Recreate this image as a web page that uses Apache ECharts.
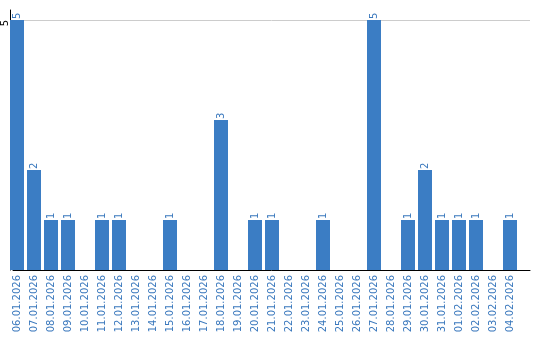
<!DOCTYPE html>
<html>
<head>
<meta charset="utf-8">
<script src="https://cdn.jsdelivr.net/npm/echarts@6/dist/echarts.min.js"></script>
<style>html,body{margin:0;padding:0;background:#fff}#c{width:540px;height:340px}</style>
</head>
<body>
<div id="c"></div>
<script>
const categories = ["06.01.2026","07.01.2026","08.01.2026","09.01.2026","10.01.2026","11.01.2026","12.01.2026","13.01.2026","14.01.2026","15.01.2026","16.01.2026","17.01.2026","18.01.2026","19.01.2026","20.01.2026","21.01.2026","22.01.2026","23.01.2026","24.01.2026","25.01.2026","26.01.2026","27.01.2026","28.01.2026","29.01.2026","30.01.2026","31.01.2026","01.02.2026","02.02.2026","03.02.2026","04.02.2026"];
const values = [5,2,1,1,0,1,1,0,0,1,0,0,3,0,1,1,0,0,1,0,0,5,0,1,2,1,1,1,0,1];
const yMax = 5;
const yInterval = 5;

const blue = '#3b7dc4';
const textBlue = '#3a78bd';
const font = 'DejaVu Sans';

const chart = echarts.init(document.getElementById('c'));
chart.setOption({
  animation: false,
  textStyle: { fontFamily: font },
  grid: [
    { left: 8.5, width: 510, top: 20, bottom: 70, containLabel: false },
    { left: 10, right: 10, top: 20, bottom: 70, containLabel: false },
    { left: 10, right: 10, top: 10, bottom: 70, containLabel: false }
  ],
  xAxis: [
    { type: 'category', gridIndex: 0, data: categories,
      axisLine: { show: false }, axisTick: { show: false },
      axisLabel: { rotate: 90, interval: 0, color: textBlue, fontSize: 10, fontFamily: font, margin: 5 } },
    { type: 'value', gridIndex: 1, min: 0, max: 1,
      axisLine: { show: true, onZero: false, lineStyle: { color: '#000', width: 1 } },
      axisTick: { show: false }, axisLabel: { show: false }, splitLine: { show: false } },
    { type: 'value', gridIndex: 2, min: 0, max: 1, show: false }
  ],
  yAxis: [
    { type: 'value', gridIndex: 0, min: 0, max: yMax, interval: yInterval, show: false },
    { type: 'value', gridIndex: 1, min: 0, max: yMax, interval: yInterval,
      axisLine: { show: false }, axisTick: { show: false },
      splitLine: { show: true, lineStyle: { color: '#cccccc', width: 1 } },
      axisLabel: { rotate: 90, align: 'right', verticalAlign: 'bottom', color: '#000', fontSize: 10, fontFamily: font, margin: 3,
        formatter: v => v === 0 ? '' : String(v) } },
    { type: 'value', gridIndex: 2, min: 0, max: 1,
      axisLine: { show: true, lineStyle: { color: '#000', width: 1 } },
      axisTick: { show: false }, axisLabel: { show: false }, splitLine: { show: false } }
  ],
  series: [{
    type: 'bar', xAxisIndex: 0, yAxisIndex: 0,
    data: values, barWidth: 14,
    itemStyle: { color: blue },
    label: { show: true, position: 'top', rotate: 90, align: 'left', verticalAlign: 'middle',
      distance: 1, color: textBlue, fontSize: 10, fontFamily: font,
      formatter: p => p.value ? String(p.value) : '' }
  }]
});
</script>
</body>
</html>
